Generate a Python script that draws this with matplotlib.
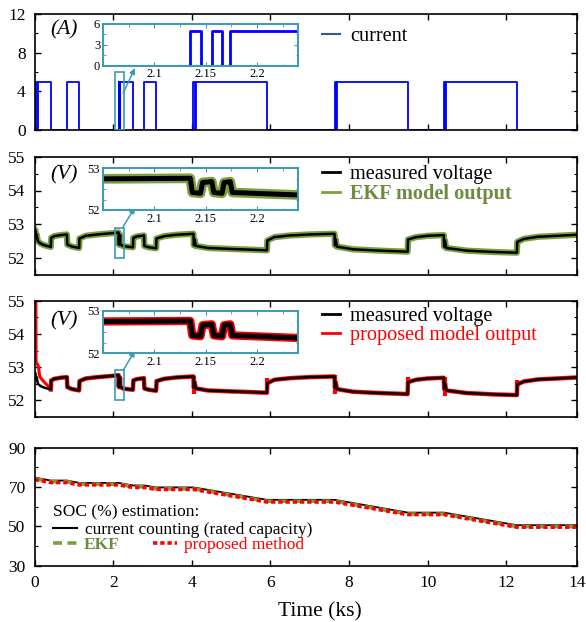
import matplotlib.pyplot as plt
import numpy as np
from matplotlib.lines import Line2D
from matplotlib.patches import Rectangle
from matplotlib.ticker import MultipleLocator, FixedLocator

plt.rcParams["font.family"] = ["Liberation Serif", "DejaVu Serif"]
plt.rcParams["xtick.direction"] = "in"
plt.rcParams["ytick.direction"] = "in"
plt.rcParams["xtick.top"] = True
plt.rcParams["ytick.right"] = True
plt.rcParams["axes.linewidth"] = 1.2

# ---- data (time in ks) ----
cur_t = [0.00, 0.02, 0.05, 0.08, 0.41, 0.82, 1.13, 2.135, 2.145, 2.156, 2.166, 2.174,
         2.50, 2.78, 3.09, 4.04, 4.07, 4.10, 5.91, 7.63, 7.66, 7.69, 9.49,
         10.41, 10.44, 10.47, 12.27, 13.8]
cur_a = [0, 5, 0, 5, 0, 5, 0, 5, 0, 5, 0, 5,
         0, 5, 0, 5, 0, 5, 0, 5, 0, 5, 0,
         5, 0, 5, 0, 0]

meas_t = [0.00, 0.02, 0.03, 0.05, 0.08, 0.15, 0.25, 0.41, 0.42, 0.50, 0.65, 0.82,
          0.83, 0.95, 1.13, 1.14, 1.30, 1.60, 2.00, 2.135, 2.137, 2.145, 2.147, 2.156,
          2.158, 2.166, 2.168, 2.174, 2.176, 2.24, 2.35, 2.50, 2.51, 2.60, 2.78, 2.79,
          2.90, 3.09, 3.10, 3.30, 3.60, 4.04, 4.05, 4.07, 4.10, 4.40, 5.00, 5.50,
          5.91, 5.92, 6.10, 6.50, 7.00, 7.63, 7.64, 7.66, 7.69, 8.10, 8.80, 9.49,
          9.50, 9.70, 10.00, 10.41, 10.42, 10.44, 10.47, 11.00, 11.70, 12.27, 12.28, 12.45,
          12.80, 13.30, 13.80]
meas_v = [52.85, 52.82, 52.62, 52.70, 52.50, 52.43, 52.38, 52.33, 52.60, 52.65, 52.68, 52.70,
          52.40, 52.34, 52.30, 52.58, 52.66, 52.70, 52.74, 52.76, 52.42, 52.40, 52.66, 52.68,
          52.42, 52.40, 52.66, 52.68, 52.42, 52.36, 52.34, 52.32, 52.60, 52.64, 52.67, 52.36,
          52.32, 52.29, 52.58, 52.65, 52.69, 52.72, 52.38, 52.55, 52.36, 52.30, 52.27, 52.25,
          52.23, 52.52, 52.62, 52.67, 52.70, 52.72, 52.38, 52.55, 52.34, 52.26, 52.22, 52.19,
          52.55, 52.62, 52.66, 52.68, 52.34, 52.52, 52.30, 52.22, 52.18, 52.16, 52.48, 52.57,
          52.63, 52.66, 52.69]
ekf_v = meas_v  # EKF output follows the measured voltage (noisy band)

prop_start_t = [0.03, 0.035, 0.06, 0.09, 0.13, 0.22, 0.35, 0.41]
prop_start_v = [55.0, 53.16, 53.10, 53.05, 52.71, 52.58, 52.42, 52.33]
spike_t = [4.05, 5.92, 7.65, 9.50, 10.43, 12.28]
spike_lo = [52.20, 52.45, 52.20, 52.50, 52.12, 52.42]
spike_hi = [52.72, 52.66, 52.75, 52.70, 52.70, 52.62]

soc_t = [0, 0.41, 0.82, 1.13, 2.13, 2.50, 2.78, 3.09, 4.04, 5.91, 7.63, 9.49, 10.41, 12.27, 13.8]
soc_cc = [74.8, 73.3, 73.3, 72.1, 72.1, 70.8, 70.8, 69.8, 69.8, 63.5, 63.5, 57.0, 57.0, 50.6, 50.6]
soc_ekf = [74.2, 72.7, 72.7, 71.5, 71.5, 70.2, 70.2, 69.1, 69.1, 62.8, 62.8, 56.3, 56.3, 49.9, 49.9]
soc_prop = [73.8, 72.3, 72.3, 71.1, 71.1, 69.8, 69.8, 68.8, 68.8, 62.4, 62.4, 56.0, 56.0, 49.6, 49.6]

x_ticks = [0, 2, 4, 6, 8, 10, 12, 13.8]
x_labels = ["0", "2", "4", "6", "8", "10", "12", "14"]
soc_ticks = [30, 50, 70, 90]
zoom_x = (2.05, 2.24)

BLUE = "#0000ff"
GREEN = "#7aa23c"
GREEN_TXT = "#6b8b3d"
RED = "#ff0000"
TEAL = "#3a9bb0"
FS = 12.5
LFS = 14.6

fig = plt.figure(figsize=(5.86, 6.22), dpi=100)
W = 586.0
H = 622.0


def add_ax(x0, x1, y_top, y_bot):
    return fig.add_axes([x0 / W, 1 - y_bot / H, (x1 - x0) / W, (y_bot - y_top) / H])


ax1 = add_ax(34.7, 577, 14, 130)
ax2 = add_ax(34.7, 577, 156.7, 275)
ax3 = add_ax(34.7, 577, 300.7, 417)
ax4 = add_ax(34.7, 577, 447.7, 565.7)

for ax in (ax1, ax2, ax3, ax4):
    ax.set_xlim(0, 13.8)
    ax.set_xticks(x_ticks)
    ax.tick_params(which="major", length=4.5, width=1, labelsize=FS)
    ax.tick_params(which="minor", length=2.5, width=0.8)
    ax.tick_params(axis="y", pad=6.5)
    ax.tick_params(axis="x", pad=7)
for ax in (ax1, ax2, ax3):
    ax.set_xticklabels([])
ax4.set_xticklabels(x_labels)

# current
ax1.step(cur_t, cur_a, where="post", color=BLUE, lw=1.3)
ax1.set_ylim(0, 12)
ax1.yaxis.set_major_locator(MultipleLocator(4))
ax1.yaxis.set_minor_locator(MultipleLocator(2))
ax1.text(0.054, 0.86, "(A)", transform=ax1.transAxes, fontsize=15.5, style="italic", ha="center", va="center")
ax1.legend(handles=[Line2D([], [], color="#2f5d8c", lw=1.5)], labels=["current"],
           loc="upper left", bbox_to_anchor=(0.497, 1.05), frameon=False, fontsize=LFS,
           handlelength=0.85, handletextpad=0.5)

# voltage EKF
ax2.plot(meas_t, ekf_v, color=GREEN, lw=4.5)
ax2.plot(meas_t, meas_v, color="black", lw=1.8)
# voltage proposed
ax3.plot(prop_start_t, prop_start_v, color=RED, lw=2.2)
mt = np.array(meas_t)
mv = np.array(meas_v)
keep = mt >= prop_start_t[-1]
ax3.plot(mt[keep], mv[keep], color=RED, lw=3.2)
ax3.vlines(spike_t, spike_lo, spike_hi, color=RED, lw=3)
ax3.plot(meas_t, meas_v, color="black", lw=1.8)

for ax, ly in ((ax2, 0.85), (ax3, 0.825)):
    ax.set_ylim(51.5, 55)
    ax.yaxis.set_major_locator(MultipleLocator(1))
    ax.yaxis.set_minor_locator(MultipleLocator(0.5))
    ax.text(0.054, ly, "(V)", transform=ax.transAxes, fontsize=15.5, style="italic", ha="center", va="center")

lg2 = ax2.legend(handles=[Line2D([], [], color="black", lw=2), Line2D([], [], color=GREEN, lw=2)],
                 labels=["measured voltage", "EKF model output"], loc="upper left",
                 bbox_to_anchor=(0.497, 1.085), frameon=False, fontsize=LFS,
                 handlelength=0.85, handletextpad=0.5, labelspacing=0.0)
lg2.get_texts()[1].set_color(GREEN_TXT)
lg2.get_texts()[1].set_fontweight("bold")
lg3 = ax3.legend(handles=[Line2D([], [], color="black", lw=2), Line2D([], [], color=RED, lw=2)],
                 labels=["measured voltage", "proposed model output"], loc="upper left",
                 bbox_to_anchor=(0.497, 1.105), frameon=False, fontsize=LFS,
                 handlelength=0.85, handletextpad=0.5, labelspacing=0.0)
lg3.get_texts()[1].set_color(RED)

# zoom boxes + arrows
boxes = ((ax1, (0, 6), 3.8, 6.4), (ax2, (52.0, 52.9), 52.93, 53.5), (ax3, (52.0, 52.9), 52.9, 53.5))
for ax, (y0, y1), ya, yb in boxes:
    ax.add_patch(Rectangle((zoom_x[0], y0), zoom_x[1] - zoom_x[0] + 0.02, y1 - y0,
                           fill=False, ec=TEAL, lw=1.2, zorder=5))
    ax.annotate("", xy=(2.55, yb), xytext=(zoom_x[1] + 0.01, ya),
                arrowprops=dict(arrowstyle="-|>", color=TEAL, lw=1.1, mutation_scale=8,
                                shrinkA=0, shrinkB=0), zorder=6)

# insets
in1 = add_ax(103, 298, 24, 65.7)
in2 = add_ax(103, 298, 168.3, 210)
in3 = add_ax(103, 298, 310.7, 353.3)

in1.step(cur_t, cur_a, where="post", color=BLUE, lw=2)
in1.set_ylim(0, 6)
in1.set_yticks([0, 3, 6])
in1.yaxis.set_minor_locator(MultipleLocator(1.5))

in2.plot(meas_t, ekf_v, color=GREEN, lw=7)
in2.plot(meas_t, meas_v, color="black", lw=3.6)
in3.plot(mt[keep], mv[keep], color=RED, lw=6)
in3.plot(meas_t, meas_v, color="black", lw=3.6)
for ia in (in2, in3):
    ia.set_ylim(52, 53)
    ia.set_yticks([52, 53])
    ia.yaxis.set_minor_locator(MultipleLocator(0.25))

for ia in (in1, in2, in3):
    ia.set_xlim(*zoom_x)
    ia.set_xticks([2.1, 2.15, 2.2])
    ia.set_xticklabels(["2.1", "2.15", "2.2"])
    ia.xaxis.set_minor_locator(MultipleLocator(0.025))
    ia.tick_params(which="both", colors=TEAL, labelcolor="black", labelsize=9, pad=2)
    ia.tick_params(which="major", length=3, width=0.8)
    ia.tick_params(which="minor", length=1.8, width=0.6)
    for s in ia.spines.values():
        s.set_color(TEAL)
        s.set_linewidth(1.4)
    ia.set_facecolor("white")

# SOC
ax4.plot(soc_t, soc_cc, color="black", lw=1.3)
ax4.plot(soc_t, soc_ekf, color=GREEN, lw=2.6, ls=(0, (2.5, 1.5)))
ax4.plot(soc_t, soc_prop, color=RED, lw=2.6, ls=(0, (1.2, 0.8)))
ax4.set_ylim(30, 90)
ax4.yaxis.set_major_locator(FixedLocator(soc_ticks))
ax4.yaxis.set_minor_locator(MultipleLocator(10))
ax4.set_xlabel("Time (ks)", fontsize=15.5)
ax4.xaxis.set_label_coords(0.525, -0.31)

lg4 = ax4.legend(handles=[Line2D([], [], color="black", lw=1.5)],
                 labels=["current counting (rated capacity)"], title="SOC (%) estimation:",
                 loc="upper left", bbox_to_anchor=(0.011, 0.626), frameon=False, fontsize=FS,
                 title_fontsize=FS, alignment="left", handlelength=1.4, handletextpad=0.45,
                 borderpad=0.2, labelspacing=0.1)
ax4.add_artist(lg4)
lg5 = ax4.legend(handles=[Line2D([], [], color=GREEN, lw=2.6, ls=(0, (2.5, 1.5))),
                          Line2D([], [], color=RED, lw=2.6, ls=(0, (1.2, 0.8)))],
                 labels=["EKF", "proposed method"], loc="upper left", bbox_to_anchor=(0.011, 0.344),
                 frameon=False, fontsize=FS, ncol=2, handlelength=1.4, handletextpad=0.4,
                 columnspacing=1.9, borderpad=0.2)
lg5.get_texts()[0].set_color(GREEN_TXT)
lg5.get_texts()[0].set_fontweight("bold")
lg5.get_texts()[1].set_color(RED)

fig.savefig("out.png", dpi=100)
